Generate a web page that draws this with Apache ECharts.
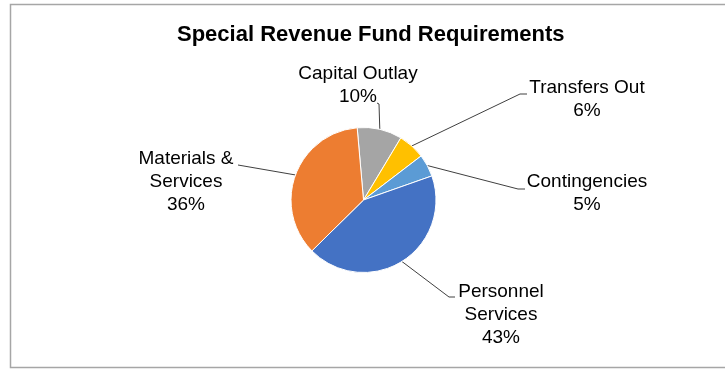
<!DOCTYPE html>
<html>
<head>
<meta charset="utf-8">
<style>
  html, body { margin: 0; padding: 0; background: #ffffff; }
  #chart { width: 725px; height: 369px; }
</style>
<script src="https://cdn.jsdelivr.net/npm/echarts@6/dist/echarts.min.js"></script>
</head>
<body>
<div id="chart"></div>
<script>
// Fund requirement categories, in clockwise order starting just left of 12 o'clock
const categories = ['Capital Outlay', 'Transfers Out', 'Contingencies', 'Personnel Services', 'Materials & Services'];
// Share of the special revenue fund (percent)
const shares = [10, 6, 5, 43, 36];
// Wrapped label names as they appear beside the pie
const labelNames = ['Capital Outlay', 'Transfers Out', 'Contingencies', 'Personnel\nServices', 'Materials &\nServices'];
const sliceColors = ['#A5A5A5', '#FFC000', '#5B9BD5', '#4472C4', '#ED7D31'];

// Where each label block sits (centre of text) and the elbow of its leader line
const labelPlacement = {
  'Capital Outlay':       { x: 358, y: 85,    elbow: [379, 104], end: [377, 103] },
  'Transfers Out':        { x: 587, y: 99,    elbow: [520, 94],  end: [527, 94] },
  'Contingencies':        { x: 587, y: 193.5, elbow: [518, 189], end: [525, 189] },
  'Personnel Services':   { x: 501, y: 314.5, elbow: [449, 297], end: [455, 297] },
  'Materials & Services': { x: 186, y: 182,   elbow: [238, 165], end: [238, 165] }
};

const chart = echarts.init(document.getElementById('chart'), null, { renderer: 'canvas' });

const option = {
  backgroundColor: '#ffffff',
  animation: false,
  title: {
    text: 'Special Revenue Fund Requirements',
    left: 177,
    top: 24,
    padding: 0,
    textStyle: {
      fontFamily: 'Liberation Sans, Arial, sans-serif',
      fontSize: 22,
      fontWeight: 'bold',
      color: '#000000'
    }
  },
  graphic: [{
    type: 'rect',
    silent: true,
    shape: { x: 10.5, y: 4.5, width: 730, height: 363 },
    style: { fill: 'none', stroke: '#a6a6a6', lineWidth: 1.5 }
  }],
  series: [{
    type: 'pie',
    center: [363.5, 200],
    radius: 72.5,
    startAngle: 95,
    clockwise: true,
    avoidLabelOverlap: false,
    percentPrecision: 0,
    itemStyle: { borderColor: '#ffffff', borderWidth: 1 },
    label: {
      show: true,
      position: 'outside',
      fontFamily: 'Liberation Sans, Arial, sans-serif',
      fontSize: 19,
      lineHeight: 23,
      color: '#000000',
      align: 'center',
      formatter: function (p) {
        return labelNames[p.dataIndex] + '\n' + p.percent + '%';
      }
    },
    labelLine: {
      show: true,
      length: 10,
      length2: 10,
      lineStyle: { color: '#404040', width: 1 }
    },
    labelLayout: function (params) {
      const name = categories[params.dataIndex];
      const place = labelPlacement[name];
      const start = params.labelLinePoints ? params.labelLinePoints[0] : place.elbow;
      return {
        x: place.x,
        y: place.y,
        align: 'center',
        verticalAlign: 'middle',
        labelLinePoints: [start, place.elbow, place.end]
      };
    },
    emphasis: { disabled: true },
    data: categories.map(function (name, i) {
      return { name: name, value: shares[i], itemStyle: { color: sliceColors[i] } };
    })
  }]
};

chart.setOption(option);
</script>
</body>
</html>
